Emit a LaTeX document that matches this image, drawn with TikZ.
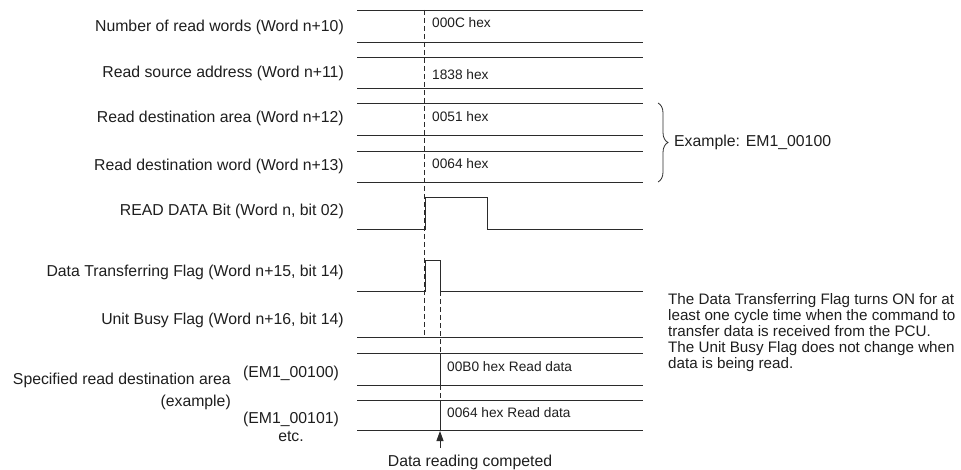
\documentclass[tikz,border=0pt]{standalone}
\usepackage{fontspec}
\setmainfont{Liberation Sans}
\usepackage{tikz}
\usetikzlibrary{arrows.meta,positioning,calc,decorations.pathreplacing}
\definecolor{SigLine}{HTML}{2B2B2B}
\definecolor{SigText}{HTML}{1E1E1E}

\begin{document}
\begin{tikzpicture}[
  x=1pt, y=-1pt,
  sig/.style={draw=SigLine, line width=0.9pt},
  guide/.style={draw=SigLine, line width=0.8pt, dash pattern=on 5pt off 3pt},
  lbl/.style={inner sep=0pt, anchor=east, text=SigText,
    font=\fontsize{15.8}{18}\selectfont},
  val/.style={inner sep=0pt, anchor=west, text=SigText,
    font=\fontsize{13.7}{16}\selectfont},
  arr/.style={-{Triangle[length=10pt, width=7pt]}, line width=0.9pt, draw=SigLine}
]
\useasboundingbox (0,0) rectangle (961,470);

% Word rows n+10 .. n+13
\draw[sig] (357,10) -- (643,10);   \draw[sig] (357,42) -- (643,42);
\draw[sig] (357,57) -- (643,57);   \draw[sig] (357,88) -- (643,88);
\draw[sig] (357,103) -- (643,103); \draw[sig] (357,135) -- (643,135);
\draw[sig] (357,151) -- (643,151); \draw[sig] (357,182) -- (643,182);

\node[lbl] (wn10) at (344,27)  {Number of read words (Word n+10)};
\node[lbl] (wn11) at (344,73)  {Read source address (Word n+11)};
\node[lbl] (wn12) at (344,118) {Read destination area (Word n+12)};
\node[lbl] (wn13) at (344,166) {Read destination word (Word n+13)};

\node[val] (v10) at (432,23)  {000C hex};
\node[val] (v11) at (432,75)  {1838 hex};
\node[val] (v12) at (432,117) {0051 hex};
\node[val] (v13) at (432,164) {0064 hex};

% Brace on area/word rows
\draw[SigLine, line width=0.8pt, decorate,
      decoration={brace, amplitude=10pt}] (658,103) -- (658,182)
  coordinate[pos=0.5] (brtip);
\node[lbl, anchor=west] (exmp) at (674,142) {Example: EM1\_00100};

% Bits and flags
\draw[sig] (357,229) -- (425,229) -- (425,197) -- (487,197) -- (487,229) -- (643,229);
\draw[sig] (357,291) -- (425,291) -- (425,260) -- (440,260) -- (440,291) -- (643,291);
\draw[sig] (357,337) -- (643,337);

\node[lbl] (rdbit) at (344,211) {READ DATA Bit (Word n, bit 02)};
\node[lbl] (dtflag) at (344,272) {Data Transferring Flag (Word n+15, bit 14)};
\node[lbl] (ubflag) at (344,320) {Unit Busy Flag (Word n+16, bit 14)};

% Read destination area
\draw[sig] (357,353) -- (643,353); \draw[sig] (357,385) -- (643,385);
\draw[sig] (357,400) -- (643,400); \draw[sig] (357,430) -- (643,430);
\draw[sig] (440,353) -- (440,385);
\draw[sig] (440,400) -- (440,430);

\node[lbl, align=right] (dest) at (231,391)
  {Specified read destination area\\[4pt](example)};
\node[lbl, anchor=center] (em100) at (291,373) {(EM1\_00100)};
\node[lbl, anchor=center, align=center] (em101) at (291,427)
  {(EM1\_00101)\\etc.};

\node[val] (rd1) at (447,367) {00B0 hex Read data};
\node[val] (rd2) at (447,413) {0064 hex Read data};

% Timing guides
\draw[guide] (424,10) -- (424,337);
\draw[guide] (440,291) -- (440,353);
\draw[guide] (440,385) -- (440,400);

% Completion arrow
\coordinate (rdend) at (440,431);
\coordinate (rdtail) at (440,448);
\draw[arr] (rdtail) -- (rdend);
\node[lbl, anchor=center] (done) at (470,462) {Data reading competed};

% Side note
\node[inner sep=0pt, anchor=north west, text=SigText, align=left,
      font=\fontsize{15.2}{16}\selectfont] (note) at (668,293)
  {The Data Transferring Flag turns ON for at\\
   least one cycle time when the command to\\
   transfer data is received from the PCU.\\
   The Unit Busy Flag does not change when\\
   data is being read.};

\end{tikzpicture}
\end{document}
